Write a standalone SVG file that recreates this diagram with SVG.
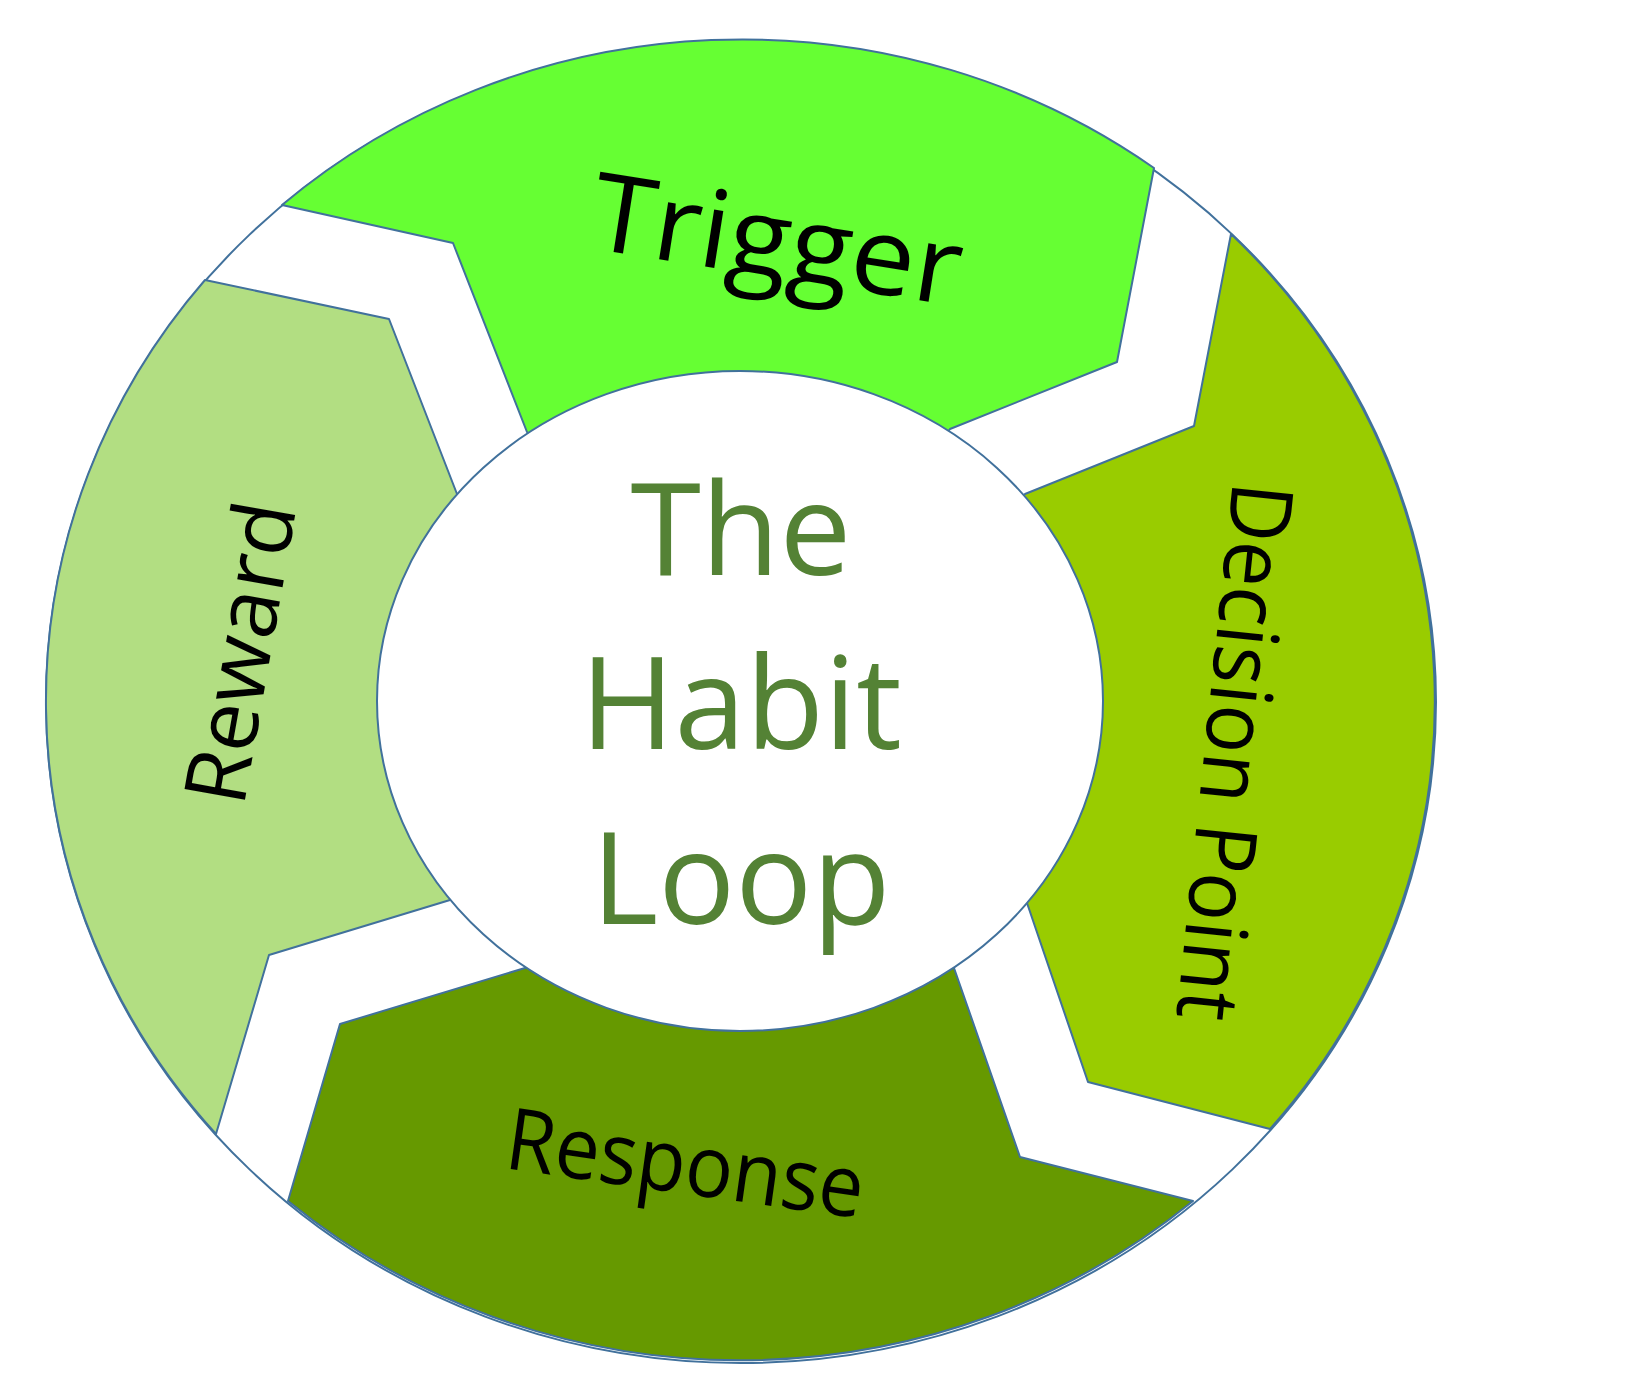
<svg xmlns="http://www.w3.org/2000/svg" width="1641" height="1389" viewBox="0 0 1641 1389">
<style>
.seg{stroke:#41719C;stroke-width:2;stroke-linejoin:round}
.lbl{font-family:"Open Sans","Liberation Sans",sans-serif;fill:#000;text-anchor:middle;dominant-baseline:central}
.ctr{font-family:"Open Sans","Liberation Sans",sans-serif;fill:#548235;text-anchor:middle;font-size:128px}
</style>
<rect width="1641" height="1389" fill="#fff"/>
<ellipse cx="741" cy="702" rx="695" ry="661" fill="#fff" class="seg"/>
<g id="trigger">
<path class="seg" fill="#66FF33" d="M282,205 A695,661 0 0 1 1154,168 L1117,362 L950,429 L741,702 L527,432 L453,243 Z"/>
<text class="lbl" font-size="108" textLength="373" lengthAdjust="spacingAndGlyphs" transform="translate(778,236) rotate(9)">Trigger</text>
</g>
<g id="decision">
<path class="seg" fill="#99CC00" d="M1231,234 A695,661 0 0 1 1270,1129 L1088,1082 L1027,903 L741,702 L1025,494 L1194,426 Z"/>
<text class="lbl" font-size="86" textLength="540" lengthAdjust="spacingAndGlyphs" transform="translate(1238,752) rotate(96)">Decision Point</text>
</g>
<g id="response">
<path class="seg" fill="#669900" d="M1193,1201 A695,661 0 0 1 288,1201 L340,1024 L525,968 L741,702 L954,968 L1020,1157 Z"/>
<text class="lbl" font-size="86" textLength="360" lengthAdjust="spacingAndGlyphs" transform="translate(686,1160) rotate(8)">Response</text>
</g>
<g id="reward">
<path class="seg" fill="#B2DE82" d="M216,1134 A695,661 0 0 1 205,280 L389,319 L457,494 L741,702 L450,900 L269,955 Z"/>
<text class="lbl" font-size="86" textLength="305" lengthAdjust="spacingAndGlyphs" transform="translate(237,652) rotate(-80)">Reward</text>
</g>
<g id="center">
<ellipse cx="740" cy="701" rx="363" ry="330" fill="#fff" class="seg"/>
<text class="ctr" x="741" y="575">The</text>
<text class="ctr" x="741" y="749">Habit</text>
<text class="ctr" x="741" y="924">Loop</text>
</g>
<g id="connectors"></g>
</svg>
